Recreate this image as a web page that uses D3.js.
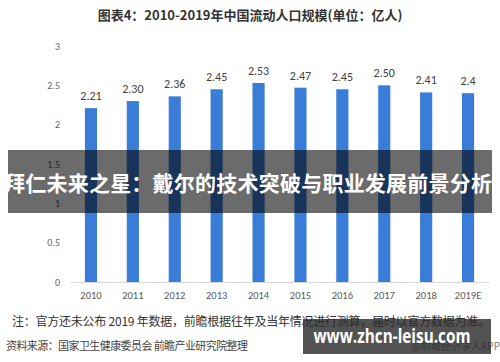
<!DOCTYPE html>
<html>
<head>
<meta charset="utf-8">
<script src="https://cdn.jsdelivr.net/npm/d3@7"></script>
<style>
  body { margin: 0; background: #fff; }
  svg { display: block; font-family: "Noto Sans CJK SC", "Noto Sans", sans-serif; }
</style>
</head>
<body>
<svg></svg>
<script>
var width = 500;
var height = 362;

var years = ['2010', '2011', '2012', '2013', '2014', '2015', '2016', '2017', '2018', '2019E'];
var values = [2.21, 2.30, 2.36, 2.45, 2.53, 2.47, 2.45, 2.50, 2.41, 2.4];
var valueLabels = ['2.21', '2.30', '2.36', '2.45', '2.53', '2.47', '2.45', '2.50', '2.41', '2.4'];
var yTicks = [0, 0.5, 1, 1.5, 2, 2.5, 3];

var svg = d3.select('svg')
    .attr('width', width)
    .attr('height', height);

var x = d3.scaleBand()
    .domain(years)
    .range([70, 489])
    .paddingInner(0.71)
    .paddingOuter(0.355);

var y = d3.scaleLinear()
    .domain([0, 3])
    .range([282, 46]);

// title
svg.append('text')
    .attr('x', 250)
    .attr('y', 20)
    .attr('text-anchor', 'middle')
    .attr('font-size', 13)
    .attr('font-weight', 'bold')
    .attr('fill', '#333')
    .text('图表4：2010-2019年中国流动人口规模(单位：亿人)');

// y axis labels (no line)
var yAxis = d3.axisLeft(y)
    .tickValues(yTicks)
    .tickFormat(d3.format('~g'))
    .tickSize(0)
    .tickPadding(0);

svg.append('g')
    .attr('transform', 'translate(60,0)')
    .call(yAxis)
    .call(g => g.select('.domain').remove())
    .selectAll('text')
        .attr('font-size', 10)
        .attr('fill', '#666')
        .attr('font-family', 'Calibri, "Liberation Sans", sans-serif');

// bars
svg.append('g')
    .selectAll('rect')
    .data(values)
    .enter()
        .append('rect')
        .attr('x', (d, i) => x(years[i]))
        .attr('y', d => y(d))
        .attr('width', x.bandwidth())
        .attr('height', d => y(0) - y(d))
        .attr('fill', '#3a7dd8');

// value labels
svg.append('g')
    .selectAll('text')
    .data(values)
    .enter()
        .append('text')
        .attr('x', (d, i) => x(years[i]) + x.bandwidth() / 2)
        .attr('y', d => y(d) - 8)
        .attr('text-anchor', 'middle')
        .attr('font-size', 12)
        .attr('fill', '#404040')
        .attr('font-family', 'Calibri, "Liberation Sans", sans-serif')
        .text((d, i) => valueLabels[i]);

// x axis
var xAxis = d3.axisBottom(x).tickSize(0).tickPadding(10);
svg.append('g')
    .attr('transform', 'translate(0,' + y(0) + ')')
    .call(xAxis)
    .call(g => g.select('.domain').attr('stroke', '#d9d9d9'))
    .selectAll('text')
        .attr('font-size', 10.5)
        .attr('fill', '#595959')
        .attr('font-family', 'Calibri, "Liberation Sans", sans-serif');

// notes
svg.append('text')
    .attr('x', 12)
    .attr('y', 326)
    .attr('font-size', 12)
    .attr('fill', '#333')
    .attr('textLength', 478)
    .text('注：官方还未公布 2019 年数据，前瞻根据往年及当年情况进行测算，届时以官方数据为准。');

svg.append('text')
    .attr('x', 6)
    .attr('y', 350)
    .attr('font-size', 11)
    .attr('fill', '#444')
    .attr('textLength', 242)
    .text('资料来源：国家卫生健康委员会 前瞻产业研究院整理');

svg.append('text')
    .attr('x', 500)
    .attr('y', 350)
    .attr('text-anchor', 'end')
    .attr('font-size', 10)
    .attr('fill', '#777')
    .text('@前瞻经济学人APP');

// overlay band with headline
svg.append('rect')
    .attr('x', 8)
    .attr('y', 150)
    .attr('width', 484)
    .attr('height', 63)
    .attr('fill', 'rgba(0,0,0,0.58)');

svg.append('text')
    .attr('x', 248)
    .attr('y', 191)
    .attr('text-anchor', 'middle')
    .attr('font-size', 21)
    .attr('font-weight', 'bold')
    .attr('fill', '#fff')
    .attr('textLength', 488)
    .text('拜仁未来之星：戴尔的技术突破与职业发展前景分析');

// bottom-right overlay box
svg.append('rect')
    .attr('x', 303)
    .attr('y', 319)
    .attr('width', 188)
    .attr('height', 35)
    .attr('fill', 'rgba(40,40,40,0.8)');

svg.append('text')
    .attr('x', 392)
    .attr('y', 343)
    .attr('text-anchor', 'middle')
    .attr('font-size', 19)
    .attr('font-weight', 'bold')
    .attr('fill', '#fff')
    .attr('font-family', '"Open Sans", "DejaVu Sans", sans-serif')
    .attr('textLength', 157)
    .attr('lengthAdjust', 'spacingAndGlyphs')
    .text('www.zhcn-leisu.com');
</script>
</body>
</html>
